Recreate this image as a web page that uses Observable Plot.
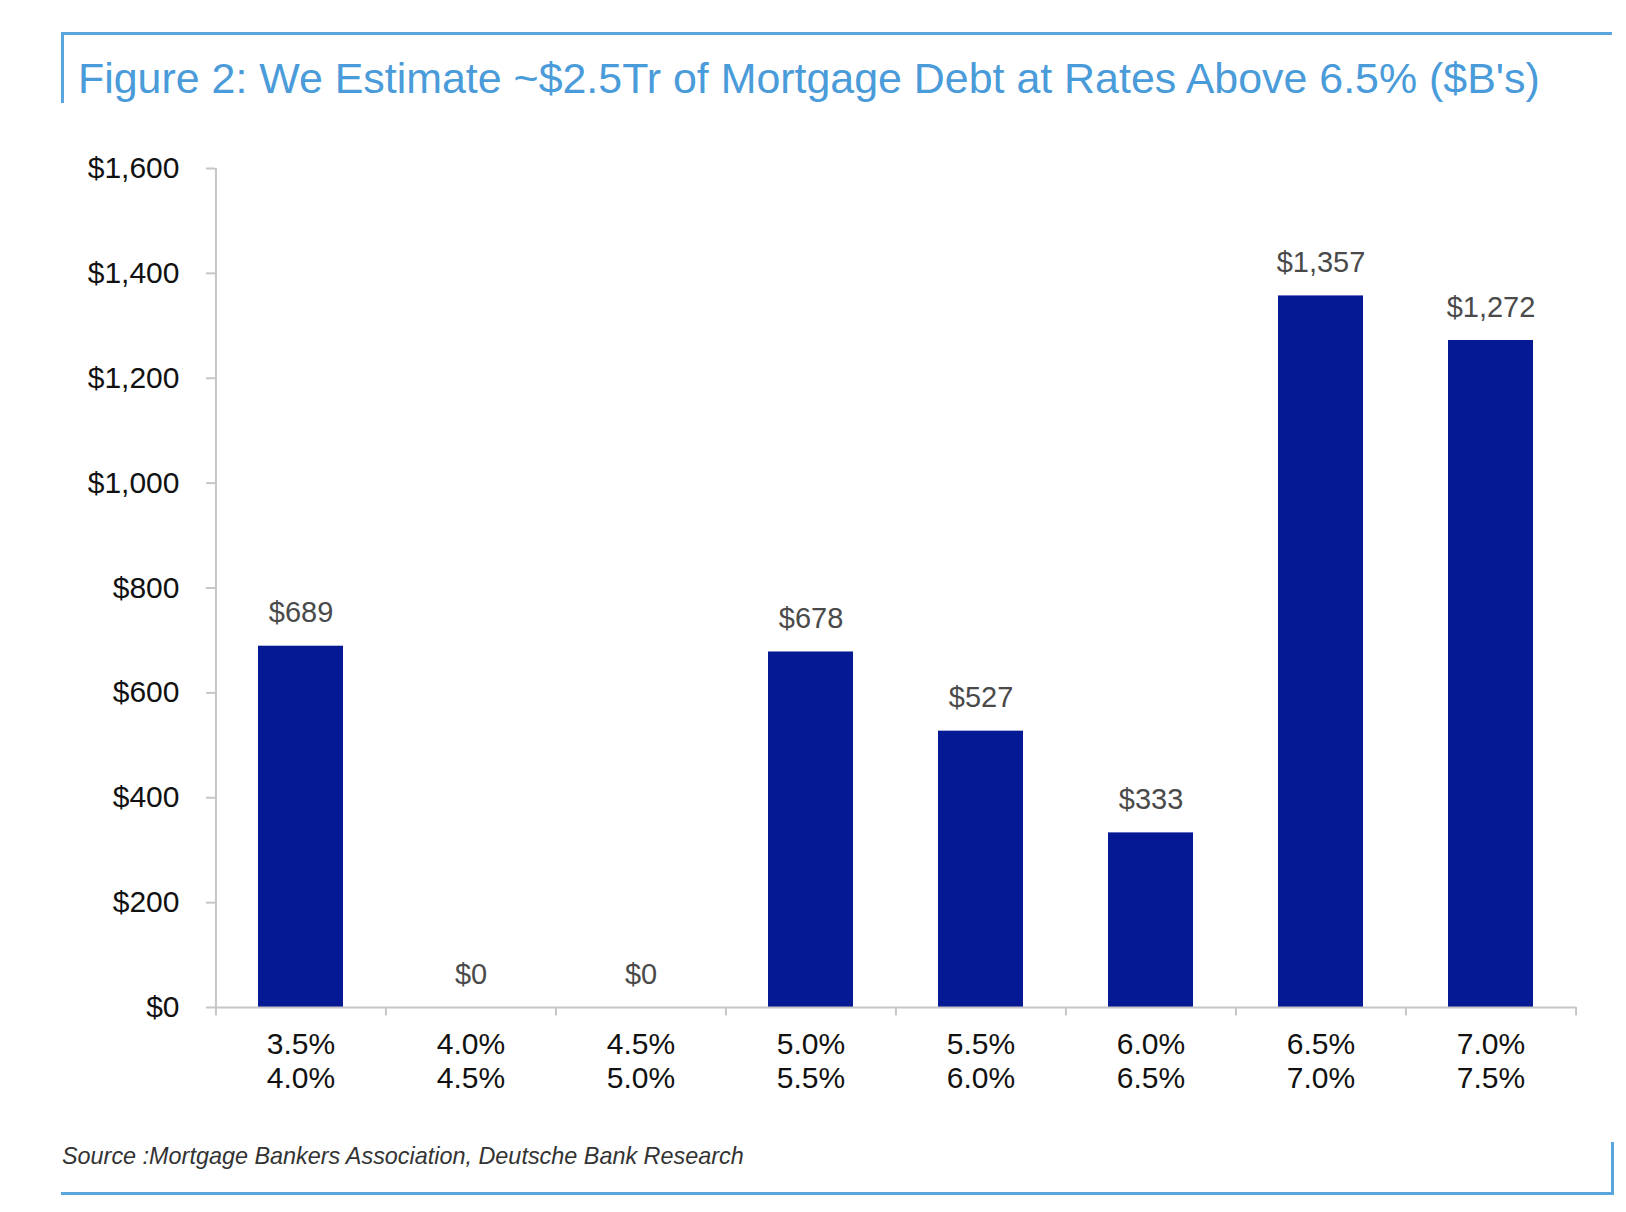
<!DOCTYPE html>
<html>
<head>
<meta charset="utf-8">
<script src="https://cdn.jsdelivr.net/npm/d3@7"></script>
<script src="https://cdn.jsdelivr.net/npm/@observablehq/plot@0.6"></script>
<style>
  html, body { margin: 0; padding: 0; background: #fff; }
  #page { position: relative; width: 1626px; height: 1212px; overflow: hidden; font-family: "Liberation Sans", Arial, sans-serif; }
  .hline { position: absolute; height: 3px; background: #5aa5dd; }
  .vline { position: absolute; width: 3px; background: #5aa5dd; }
  #title { position: absolute; left: 78px; top: 55px; color: #4a9bd9; font-size: 41px; white-space: nowrap; line-height: 46px; }
  #source { position: absolute; left: 62px; top: 1143px; color: #333; font-size: 23px; font-style: italic; white-space: nowrap; line-height: 26px; }
  #chart { position: absolute; left: 0; top: 130px; }
</style>
</head>
<body>
<div id="page">
  <div class="hline" style="left:61px; top:32px; width:1551px;"></div>
  <div class="vline" style="left:61px; top:32px; height:71px;"></div>
  <div id="title">Figure 2: We Estimate ~$2.5Tr of Mortgage Debt at Rates Above 6.5% ($B's)</div>
  <div id="chart"></div>
  <div id="source">Source :Mortgage Bankers Association, Deutsche Bank Research</div>
  <div class="hline" style="left:61px; top:1192px; width:1553px;"></div>
  <div class="vline" style="left:1611px; top:1142px; height:53px;"></div>
</div>
<script>
const categories = ["3.5%\n4.0%", "4.0%\n4.5%", "4.5%\n5.0%", "5.0%\n5.5%", "5.5%\n6.0%", "6.0%\n6.5%", "6.5%\n7.0%", "7.0%\n7.5%"];
const values = [689, 0, 0, 678, 527, 333, 1357, 1272];
const yTicks = [0, 200, 400, 600, 800, 1000, 1200, 1400, 1600];

const data = categories.map((c, i) => ({cat: c, value: values[i]}));
const fmt = d => "$" + d3.format(",")(d);

function fitWidth(id, base, target) {
  const el = document.getElementById(id);
  const w = el.getBoundingClientRect().width;
  if (w > 0) el.style.fontSize = (base * target / w).toFixed(2) + "px";
}
fitWidth("title", 41, 1462);
fitWidth("source", 23, 682);

const width = 1626;
const marginLeft = 215, marginRight = 50, marginTop = 38, marginBottom = 120;
const height = 1007 - 130 + marginBottom;
const step = (width - marginLeft - marginRight) / categories.length;
const tickLen = 16; // data units below zero for boundary ticks
const axisColor = "#c6c6c6";

const chart = Plot.plot({
  width, height, marginLeft, marginRight, marginTop, marginBottom,
  style: {fontFamily: "'Liberation Sans', Arial, sans-serif", background: "transparent"},
  x: {domain: categories, paddingInner: 0.5, paddingOuter: 0.25, axis: null, label: null},
  y: {domain: [0, 1600], axis: null, label: null},
  marks: [
    Plot.barY(data, {x: "cat", y: "value", fill: "#061994"}),
    Plot.ruleY([0], {stroke: axisColor, strokeWidth: 2}),
    Plot.ruleX([categories[0]], {dx: -step / 2, y1: -tickLen, y2: 1600, stroke: axisColor, strokeWidth: 2}),
    Plot.ruleX(categories.slice(1), {dx: -step / 2, y1: -tickLen, y2: 0, stroke: axisColor, strokeWidth: 2}),
    Plot.ruleX([categories[categories.length - 1]], {dx: step / 2, y1: -tickLen, y2: 0, stroke: axisColor, strokeWidth: 2}),
    Plot.axisY({ticks: yTicks, tickFormat: fmt, tickSize: 9, tickPadding: 27, stroke: axisColor, strokeWidth: 2, fontSize: 30, fill: "#111", label: null}),
    Plot.axisX({tickSize: 0, tickPadding: 23, fontSize: 30, fill: "#111", lineHeight: 1.12, label: null}),
    Plot.text(data, {x: "cat", y: "value", text: d => fmt(d.value), dy: -33, lineAnchor: "middle", fontSize: 29, fill: "#4a4a4a"})
  ]
});
document.getElementById("chart").appendChild(chart);
</script>
</body>
</html>
